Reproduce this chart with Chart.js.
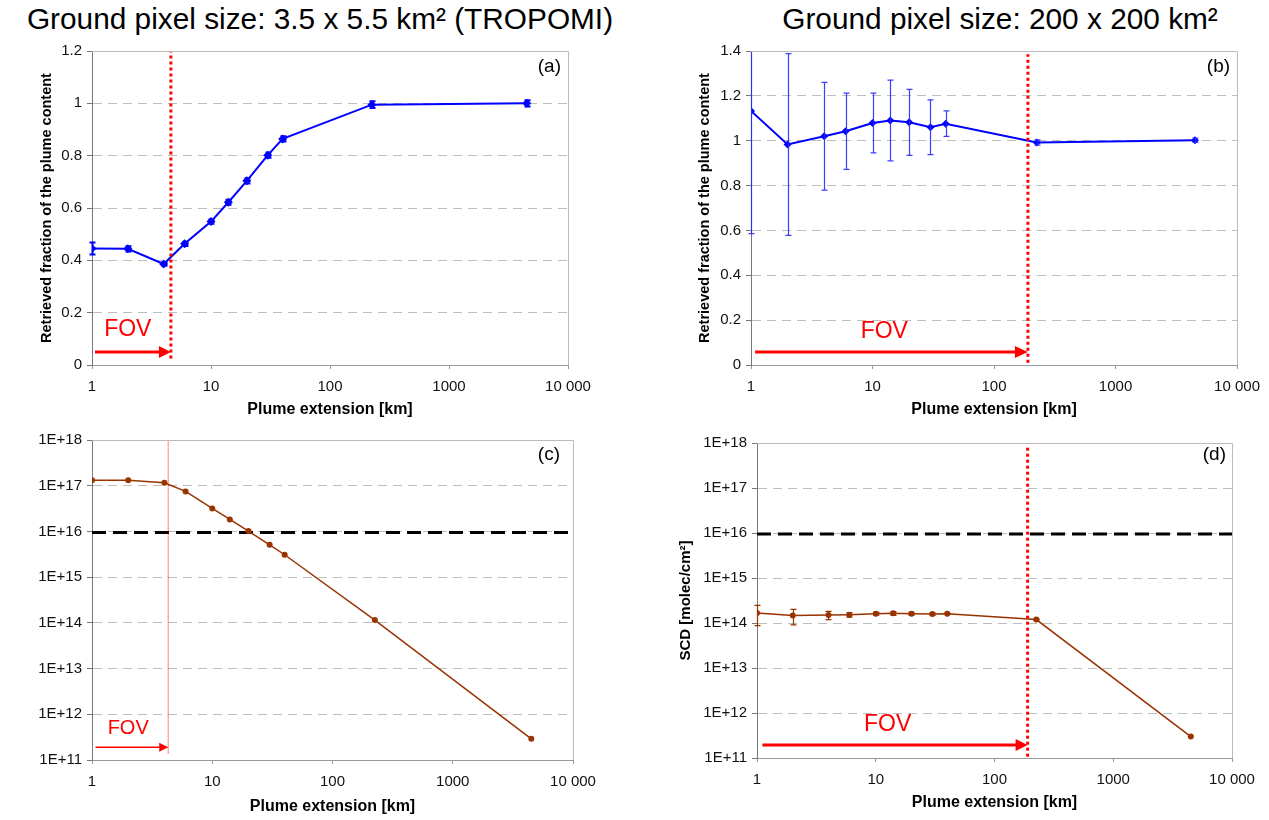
<!DOCTYPE html>
<html>
<head>
<meta charset="utf-8">
<script src="https://cdn.jsdelivr.net/npm/chart.js@4.4.0/dist/chart.umd.min.js"></script>
<style>
html,body{margin:0;padding:0;background:#fff;width:1269px;height:820px;overflow:hidden;font-family:"Liberation Sans",Arial,sans-serif;}
.title{position:absolute;top:2px;font-size:29.8px;line-height:33px;color:#000;white-space:nowrap;transform:translateX(-50%);}
.box{position:absolute;}
</style>
</head>
<body>
<div class="title" style="left:320px">Ground pixel size: 3.5 x 5.5 km² (TROPOMI)</div>
<div class="title" style="left:1000px">Ground pixel size: 200 x 200 km²</div>
<div class="box" style="left:0px;top:36px;width:630px;height:384px"><canvas id="ca"></canvas></div>
<div class="box" style="left:640px;top:36px;width:629px;height:384px"><canvas id="cb"></canvas></div>
<div class="box" style="left:0px;top:425px;width:630px;height:395px"><canvas id="cc"></canvas></div>
<div class="box" style="left:640px;top:425px;width:629px;height:395px"><canvas id="cd"></canvas></div>
<script>
// ---- data ----
const plumeKm = [1, 2, 4, 6, 10, 14, 20, 30, 40, 225, 4500];

const fractionA = [0.445, 0.444, 0.386, 0.463, 0.548, 0.622, 0.704, 0.802, 0.864, 0.995, 1.0];
const errorA    = [0.023, 0.010, 0.007, 0.008, 0.008, 0.010, 0.010, 0.010, 0.010, 0.013, 0.012];

const fractionB = [1.133, 0.983, 1.020, 1.042, 1.079, 1.090, 1.082, 1.060, 1.076, 0.992, 1.002];
const errorB    = [0.547, 0.405, 0.240, 0.170, 0.133, 0.180, 0.147, 0.122, 0.057, 0.012, 0.010];

const scdC = [1.31e17, 1.31e17, 1.16e17, 7.5e16, 3.19e16, 1.83e16, 1.02e16, 5.1e15, 3.09e15, 1.15e14, 2.9e11];

const scdD   = [1.67e14, 1.46e14, 1.50e14, 1.53e14, 1.61e14, 1.64e14, 1.61e14, 1.58e14, 1.61e14, 1.19e14, 3.0e11];
const errorD = [0.80e14, 0.55e14, 0.31e14, 0.18e14, 0.12e14, 0.16e14, 0.12e14, 0.10e14, 0.05e14, 0.03e14, 0];

const fovA = 4.6, fovB = 190, fovC = 4.3, fovD = 190;
const detectionLimit = 9.5e15;

const xTicks = [1, 10, 100, 1000, 10000];
const xTickLabels = ['1', '10', '100', '1000', '10 000'];
const yTicksA = [0, 0.2, 0.4, 0.6, 0.8, 1, 1.2];
const yTicksB = [0, 0.2, 0.4, 0.6, 0.8, 1, 1.2, 1.4];
const yTicksLog = [1e11, 1e12, 1e13, 1e14, 1e15, 1e16, 1e17, 1e18];
const yTickLabelsLog = ['1E+11', '1E+12', '1E+13', '1E+14', '1E+15', '1E+16', '1E+17', '1E+18'];

const xTitle = 'Plume extension [km]';
const yTitleFrac = 'Retrieved fraction of the plume content';
const yTitleSCD = 'SCD [molec/cm²]';

// ---- drawing ----
const FONT = '"Liberation Sans", Arial, sans-serif';
Chart.defaults.font.family = FONT;

function makeChart(id, P) {
  const deco = {
    id: 'deco',
    afterDatasetsDraw(chart) {
      const {ctx, chartArea: a, scales: {x, y}} = chart;
      if (P.errors) {
        ctx.save();
        ctx.beginPath(); ctx.rect(a.left - 12, a.top, a.right - a.left + 24, a.bottom - a.top); ctx.clip();
        ctx.strokeStyle = P.errColor; ctx.lineWidth = P.errWidth;
        plumeKm.forEach((xv, i) => {
          const e = P.errors[i]; if (!e) return;
          const px = Math.round(x.getPixelForValue(xv)) + 0.5;
          const y1 = y.getPixelForValue(P.values[i] + e), y2 = y.getPixelForValue(P.values[i] - e);
          ctx.beginPath();
          ctx.moveTo(px, y1); ctx.lineTo(px, y2);
          ctx.moveTo(px - P.cap, y1); ctx.lineTo(px + P.cap, y1);
          ctx.moveTo(px - P.cap, y2); ctx.lineTo(px + P.cap, y2);
          ctx.stroke();
        });
        ctx.restore();
      }
      // FOV arrow
      ctx.save();
      const ax0 = x.getPixelForValue(P.arrow.from), ax1 = x.getPixelForValue(P.fov), ay = y.getPixelForValue(P.arrow.y);
      ctx.strokeStyle = '#ff0000'; ctx.fillStyle = '#ff0000'; ctx.lineWidth = P.arrow.w;
      ctx.beginPath(); ctx.moveTo(ax0, ay); ctx.lineTo(ax1 - P.arrow.hl + 1, ay); ctx.stroke();
      ctx.beginPath(); ctx.moveTo(ax1, ay); ctx.lineTo(ax1 - P.arrow.hl, ay - P.arrow.hw); ctx.lineTo(ax1 - P.arrow.hl, ay + P.arrow.hw); ctx.closePath(); ctx.fill();
      // FOV text
      ctx.font = P.fovText.size + 'px ' + FONT;
      ctx.textAlign = 'center'; ctx.textBaseline = 'middle';
      ctx.fillText('FOV', x.getPixelForValue(P.fovText.x), y.getPixelForValue(P.fovText.y));
      ctx.restore();
    },
    afterDraw(chart) {
      const {ctx, chartArea: a} = chart;
      ctx.save();
      ctx.strokeStyle = '#bbbbbb'; ctx.lineWidth = 1;
      ctx.beginPath();
      ctx.moveTo(a.left, Math.round(a.top) + 0.5); ctx.lineTo(Math.round(a.right) + 0.5, Math.round(a.top) + 0.5);
      ctx.lineTo(Math.round(a.right) + 0.5, a.bottom);
      ctx.stroke();
      ctx.fillStyle = '#000';
      ctx.font = P.label.size + 'px ' + FONT;
      ctx.textAlign = 'right'; ctx.textBaseline = 'middle';
      ctx.fillText(P.label.text, a.right - P.label.dx, a.top + P.label.dy);
      ctx.restore();
    }
  };

  const datasets = [
    {
      data: [{x: P.fov, y: P.fovRange[0]}, {x: P.fov, y: P.fovRange[1]}],
      borderColor: '#ff0000', borderWidth: P.fovWidth, borderDash: P.fovDash,
      pointRadius: 0, order: 0
    },
    {
      data: plumeKm.map((xv, i) => ({x: xv, y: P.values[i]})),
      borderColor: P.color, backgroundColor: P.color, borderWidth: P.lineWidth,
      pointStyle: P.pointStyle, pointRadius: P.pointRadius, pointBorderWidth: 0,
      tension: 0, order: 1
    }
  ];
  if (P.threshold) {
    datasets.push({
      data: [{x: 1, y: detectionLimit}, {x: 10000, y: detectionLimit}],
      borderColor: '#000000', borderWidth: 3, borderDash: [14, 7],
      pointRadius: 0, order: 2
    });
  }

  const yIsLog = P.yType === 'logarithmic';
  return new Chart(document.getElementById(id), {
    type: 'line',
    data: {datasets},
    plugins: [deco],
    options: {
      responsive: true, maintainAspectRatio: false, animation: false, events: [],
      devicePixelRatio: 1,
      layout: {padding: {top: P.padTop, right: P.padRight, bottom: 0, left: 0}},
      plugins: {legend: {display: false}, tooltip: {enabled: false}},
      scales: {
        x: {
          type: 'logarithmic', min: 1, max: 10000,
          afterBuildTicks: s => { s.ticks = xTicks.map(v => ({value: v})); },
          afterFit: s => { s.height = P.xH; },
          ticks: {
            callback: v => xTickLabels[xTicks.indexOf(v)],
            font: {size: 15}, color: '#111', padding: 9, maxRotation: 0, autoSkip: false
          },
          grid: {drawOnChartArea: false, drawTicks: true, tickLength: 4, tickColor: '#999999'},
          border: {color: '#999999', width: 1},
          title: {display: true, text: xTitle, color: '#000', font: {size: 16, weight: 'bold'}, padding: {top: 0, bottom: P.xTitlePad}}
        },
        y: {
          type: P.yType, min: P.yMin, max: P.yMax,
          afterBuildTicks: s => { s.ticks = P.yTicks.map(v => ({value: v})); },
          afterFit: s => { s.width = P.yW; },
          ticks: {
            callback: v => yIsLog ? yTickLabelsLog[yTicksLog.indexOf(v)] : String(v),
            font: {size: 15}, color: '#111', padding: 5, autoSkip: false
          },
          grid: {color: '#bdbdbd', lineWidth: 1, tickLength: 5, tickColor: '#777777'},
          border: {color: '#777777', width: 1, dash: [9, 6]},
          title: {display: !!P.yTitle, text: P.yTitle || '', color: '#000', font: {size: P.yTitleSize, weight: 'bold'}, padding: {top: P.yTitlePad, bottom: 0}}
        }
      }
    }
  });
}

makeChart('ca', {
  values: fractionA, errors: errorA, errColor: '#0000ff', errWidth: 2, cap: 3,
  color: '#0000ff', lineWidth: 2, pointStyle: 'rectRot', pointRadius: 4.5,
  fov: fovA, fovRange: [0.025, 1.2], fovWidth: 3, fovDash: [3, 3],
  arrow: {from: 1.06, y: 0.05, w: 3, hl: 12, hw: 6},
  fovText: {x: 2.0, y: 0.134, size: 23},
  label: {text: '(a)', size: 19, dx: 7, dy: 16},
  yType: 'linear', yMin: 0, yMax: 1.2, yTicks: yTicksA, yTitle: yTitleFrac, yTitleSize: 14.5, yTitlePad: 38,
  yW: 92, xH: 55, padTop: 15, padRight: 62, xTitlePad: 1
});

makeChart('cb', {
  values: fractionB, errors: errorB, errColor: 'rgba(40,40,255,0.9)', errWidth: 1.2, cap: 3,
  color: '#0000ff', lineWidth: 2, pointStyle: 'rectRot', pointRadius: 4,
  fov: fovB, fovRange: [0.01, 1.386], fovWidth: 3, fovDash: [3, 3],
  arrow: {from: 1.08, y: 0.058, w: 3, hl: 13, hw: 6},
  fovText: {x: 12.5, y: 0.148, size: 23},
  label: {text: '(b)', size: 19, dx: 7, dy: 16},
  yType: 'linear', yMin: 0, yMax: 1.4, yTicks: yTicksB, yTitle: yTitleFrac, yTitleSize: 14.5, yTitlePad: 56,
  yW: 111, xH: 55, padTop: 15, padRight: 30, xTitlePad: 1
});

makeChart('cc', {
  values: scdC, errors: null,
  color: '#993300', lineWidth: 1.5, pointStyle: 'circle', pointRadius: 3,
  fov: fovC, fovRange: [1.4e11, 1e18], fovWidth: 1, fovDash: [1, 1],
  arrow: {from: 1.07, y: 1.9e11, w: 1.5, hl: 9, hw: 4.5},
  fovText: {x: 2.0, y: 4.8e11, size: 20},
  label: {text: '(c)', size: 19, dx: 13, dy: 15},
  threshold: true,
  yType: 'logarithmic', yMin: 1e11, yMax: 1e18, yTicks: yTicksLog, yTitle: null, yTitleSize: 15, yTitlePad: 0,
  yW: 92, xH: 60, padTop: 15, padRight: 57, xTitlePad: 4
});

makeChart('cd', {
  values: scdD, errors: errorD, errColor: '#993300', errWidth: 1.2, cap: 3,
  color: '#993300', lineWidth: 1.5, pointStyle: 'circle', pointRadius: 3,
  fov: fovD, fovRange: [1.07e11, 8.5e17], fovWidth: 3, fovDash: [3, 3],
  arrow: {from: 1.11, y: 1.94e11, w: 3, hl: 12, hw: 6},
  fovText: {x: 12.6, y: 5.4e11, size: 23},
  label: {text: '(d)', size: 19, dx: 6, dy: 12},
  threshold: true,
  yType: 'logarithmic', yMin: 1e11, yMax: 1e18, yTicks: yTicksLog, yTitle: yTitleSCD, yTitleSize: 15, yTitlePad: 37,
  yW: 117, xH: 62, padTop: 18, padRight: 37, xTitlePad: 8
});
</script>
</body>
</html>
